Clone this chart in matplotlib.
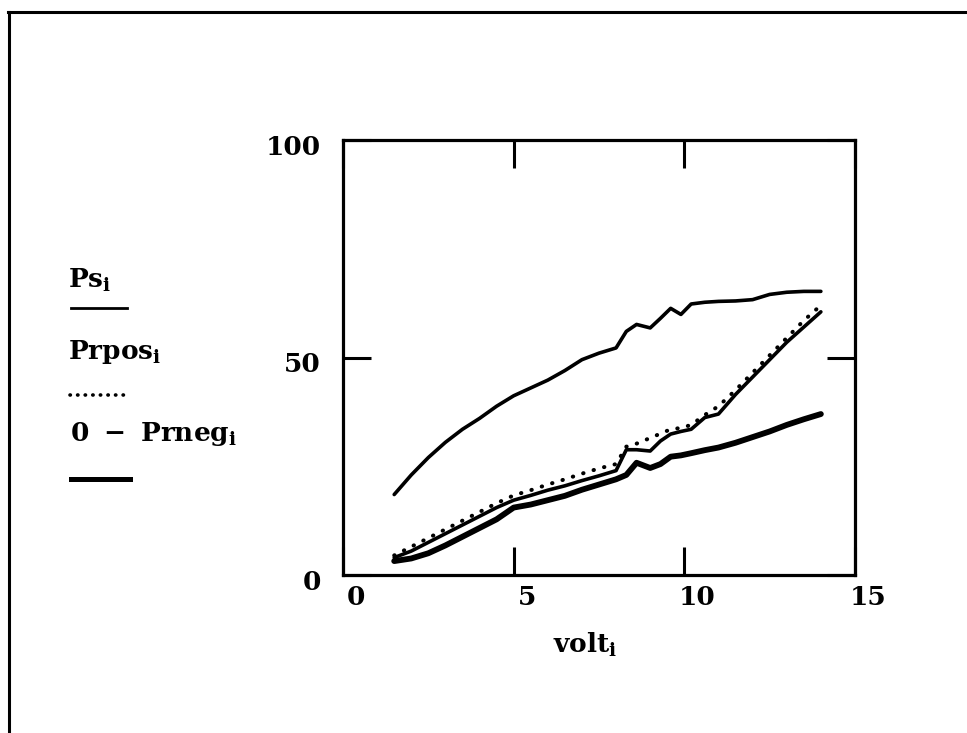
import matplotlib
matplotlib.use("Agg")
import matplotlib.pyplot as plt
from matplotlib.lines import Line2D
from matplotlib.transforms import ScaledTranslation

# Supply voltage sweep
volt = [1.5, 2.0, 2.5, 3.0, 3.5, 4.0, 4.5, 5.0, 5.5, 6.0, 6.5, 7.0, 7.5, 8.0,
        8.3, 8.6, 9.0, 9.3, 9.6, 9.9, 10.2, 10.6, 11.0, 11.5, 12.0, 12.5,
        13.0, 13.5, 14.0]

# Source power
Ps = [18.5, 23.0, 27.0, 30.5, 33.5, 36.0, 38.8, 41.2, 43.0, 44.8, 47.0, 49.5,
      51.0, 52.2, 56.0, 57.6, 56.8, 59.0, 61.3, 59.9, 62.3, 62.7, 62.9, 63.0,
      63.3, 64.5, 65.0, 65.2, 65.2]

# Received power, positive half
Prpos = [4.5, 6.5, 8.5, 10.5, 12.5, 14.5, 16.5, 18.3, 19.5, 20.8, 22.0, 23.3,
         24.5, 25.5, 29.5, 30.2, 31.5, 32.5, 33.5, 33.8, 34.5, 36.8, 38.8,
         42.5, 46.5, 50.5, 54.5, 58.5, 62.0]

# Received power, combined
Pr = [4.0, 5.5, 7.5, 9.5, 11.5, 13.5, 15.5, 17.2, 18.3, 19.5, 20.5, 21.7,
      22.8, 24.0, 28.8, 28.8, 28.5, 30.8, 32.4, 33.0, 33.5, 36.2, 37.0, 41.5,
      45.5, 49.5, 53.5, 57.0, 60.5]

# Received power, negative half (sign flipped)
Prneg_flipped = [3.2, 3.8, 5.0, 6.8, 8.8, 10.8, 12.8, 15.5, 16.2, 17.2, 18.2,
                 19.6, 20.8, 22.0, 23.0, 25.8, 24.6, 25.5, 27.2, 27.5, 28.0,
                 28.7, 29.3, 30.4, 31.7, 33.0, 34.5, 35.8, 37.0]

xticks = [0, 5, 10, 15]
yticks = [0, 50, 100]

plt.rcParams["font.family"] = "DejaVu Serif"
plt.rcParams["font.weight"] = "bold"
plt.rcParams["mathtext.fontset"] = "custom"
plt.rcParams["mathtext.rm"] = "DejaVu Serif:bold"
plt.rcParams["mathtext.it"] = "DejaVu Serif:bold"
plt.rcParams["mathtext.bf"] = "DejaVu Serif:bold"

W, H = 967, 733
DPI = 100
fig = plt.figure(figsize=(W / DPI, H / DPI), dpi=DPI)
fig.patch.set_facecolor("white")

def fx(px):
    return px / W

def fy(py):
    return 1 - py / H

# plotting region
x0, x1, y0, y1 = 343, 855, 140, 575
ax = fig.add_axes([fx(x0), fy(y1), (x1 - x0) / W, (y1 - y0) / H])
ax.set_xlim(0, 15)
ax.set_ylim(0, 100)

ax.plot(volt, Ps, color="black", lw=2.6, solid_capstyle="round")
ax.plot(volt, Prpos, color="black", lw=2.9, linestyle=(0, (0.1, 2.6)),
        dash_capstyle="round")
ax.plot(volt, Pr, color="black", lw=2.6, solid_capstyle="round")
ax.plot(volt, Prneg_flipped, color="black", lw=4.2, solid_capstyle="round")

for sp in ax.spines.values():
    sp.set_linewidth(2.3)
    sp.set_color("black")

ax.set_xticks(xticks)
ax.set_yticks(yticks)
ax.set_xticklabels([str(v) for v in xticks])
ax.set_yticklabels([str(v) for v in yticks])
ax.tick_params(axis="both", direction="in", length=20, width=2.2,
               top=True, right=True, labelsize=19, colors="black")
ax.tick_params(axis="x", pad=7)
ax.tick_params(axis="y", pad=16)
for lab in ax.get_xticklabels():
    lab.set_fontweight("bold")
    lab.set_transform(lab.get_transform() +
                      ScaledTranslation(13 / DPI, 0, fig.dpi_scale_trans))
for lab in ax.get_yticklabels():
    lab.set_fontweight("bold")
    lab.set_transform(lab.get_transform() +
                      ScaledTranslation(0, -5 / DPI, fig.dpi_scale_trans))

# axis title
fig.text(fx(585), fy(645), r"$\mathrm{volt}_{\mathrm{i}}$", fontsize=19,
         ha="center", va="center")

# trace key on the left
fig.text(fx(68), fy(280), r"$\mathrm{Ps}_{\mathrm{i}}$", fontsize=19,
         ha="left", va="center")
fig.add_artist(Line2D([fx(71), fx(127)], [fy(308), fy(308)], color="black",
                      lw=2.0, transform=fig.transFigure))
fig.text(fx(68), fy(352), r"$\mathrm{Prpos}_{\mathrm{i}}$", fontsize=19,
         ha="left", va="center")
fig.add_artist(Line2D([fx(70), fx(127)], [fy(395), fy(395)], color="black",
                      lw=2.6, linestyle=(0, (0.1, 2.0)), dash_capstyle="round",
                      transform=fig.transFigure))
fig.text(fx(70), fy(434), r"$\mathrm{0\,\,-\,\,Prneg}_{\mathrm{i}}$",
         fontsize=19, ha="left", va="center")
fig.add_artist(Line2D([fx(71), fx(130)], [fy(479), fy(479)], color="black",
                      lw=3.6, transform=fig.transFigure))

# page frame
fig.add_artist(Line2D([fx(8), fx(967)], [fy(11.5), fy(11.5)], color="black",
                      lw=2.2, transform=fig.transFigure))
fig.add_artist(Line2D([fx(8.5), fx(8.5)], [fy(11.5), fy(733)], color="black",
                      lw=2.2, transform=fig.transFigure))

fig.savefig("out.png", dpi=DPI, facecolor="white")
